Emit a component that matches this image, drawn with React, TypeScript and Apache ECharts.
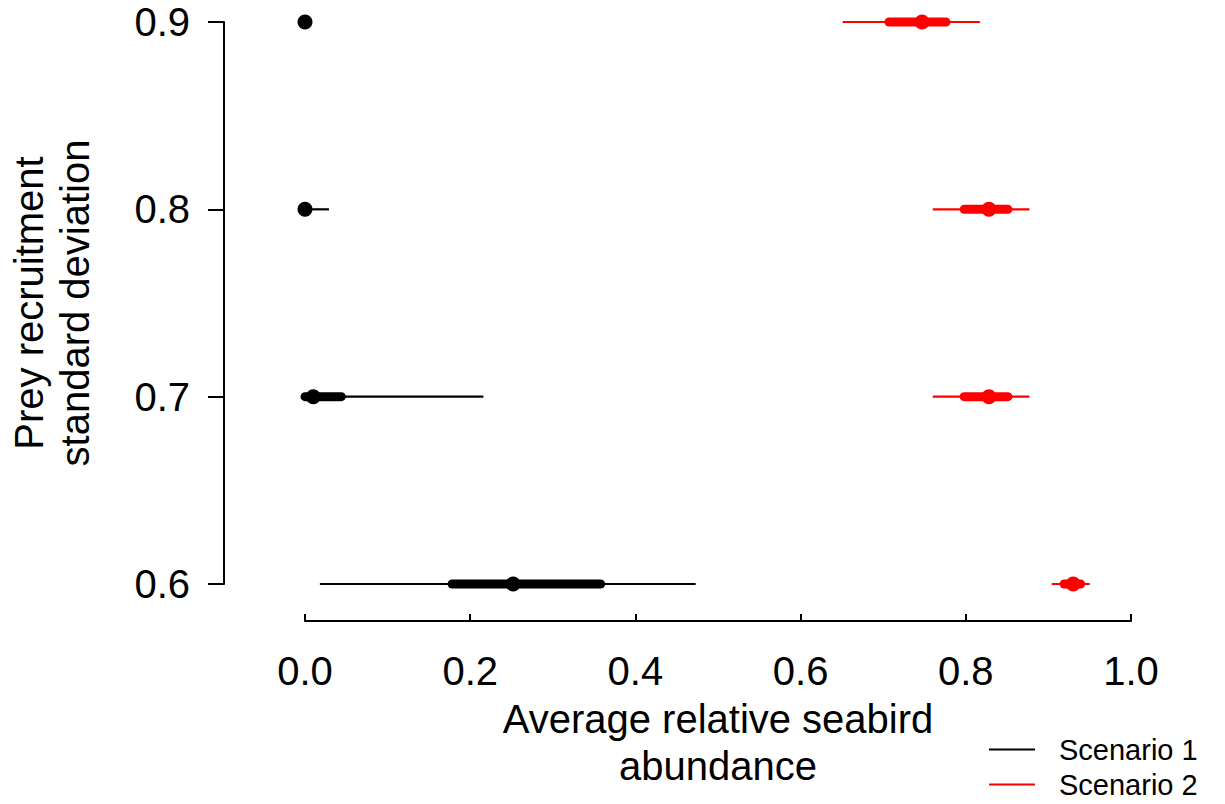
import React, { useEffect, useRef } from "react";
import * as echarts from "echarts";

const yLevels = [0.6, 0.7, 0.8, 0.9];
const xTicks = [0.0, 0.2, 0.4, 0.6, 0.8, 1.0];
const seriesNames = ["Scenario 1", "Scenario 2"];
const seriesColors = ["#000000", "#ff0000"];

// per y level: [lo, hi]
const s1Outer = [[0.018, 0.473], [0.0, 0.216], [0.0, 0.029], [0.0, 0.0]];
const s1Inner = [[0.178, 0.358], [0.0, 0.044], [0.0, 0.003], [0.0, 0.0]];
const s1Median = [0.252, 0.01, 0.0, 0.0];

const s2Outer = [[0.904, 0.950], [0.760, 0.877], [0.760, 0.877], [0.651, 0.817]];
const s2Inner = [[0.919, 0.939], [0.798, 0.851], [0.798, 0.851], [0.707, 0.776]];
const s2Median = [0.930, 0.828, 0.828, 0.747];

const FONT = "Liberation Sans, Arial, Helvetica, sans-serif";

function buildData(outer: number[][], inner: number[][], med: number[]) {
  return yLevels.map((y, i) => [y, outer[i][0], outer[i][1], inner[i][0], inner[i][1], med[i]]);
}

function makeSeries(name: string, color: string, data: number[][]) {
  return {
    name,
    type: "custom",
    itemStyle: { color },
    data,
    encode: { x: [1, 2, 3, 4, 5], y: 0 },
    renderItem: (params: any, api: any) => {
      const y = api.value(0);
      const a = api.coord([api.value(1), y]);
      const b = api.coord([api.value(2), y]);
      const c = api.coord([api.value(3), y]);
      const d = api.coord([api.value(4), y]);
      const m = api.coord([api.value(5), y]);
      const children: any[] = [];
      if (b[0] - a[0] > 0.5) {
        children.push({
          type: "line",
          shape: { x1: a[0], y1: a[1], x2: b[0], y2: b[1] },
          style: { stroke: color, lineWidth: 2.2 },
        });
      }
      if (d[0] - c[0] > 0.5) {
        children.push({
          type: "line",
          shape: { x1: c[0], y1: c[1], x2: d[0], y2: d[1] },
          style: { stroke: color, lineWidth: 9, lineCap: "round" },
        });
      }
      children.push({
        type: "circle",
        shape: { cx: m[0], cy: m[1], r: 7.5 },
        style: { fill: color },
      });
      return { type: "group", children };
    },
  };
}

export default function App() {
  const ref = useRef<HTMLDivElement>(null);
  useEffect(() => {
    if (!ref.current) return;
    document.body.style.margin = "0";
    const chart = echarts.init(ref.current, undefined, { renderer: "svg" });
    chart.setOption({
      animation: false,
      backgroundColor: "#ffffff",
      grid: {
        left: 305,
        right: 94,
        top: 22,
        bottom: 220,
        containLabel: false,
        outerBoundsMode: "none",
      },
      xAxis: {
        type: "value",
        min: 0,
        max: 1,
        interval: 0.2,
        offset: 37,
        splitLine: { show: false },
        axisLine: { show: true, onZero: false, lineStyle: { color: "#000", width: 2 } },
        axisTick: { show: true, inside: true, length: 7, lineStyle: { color: "#000", width: 2 } },
        axisLabel: {
          color: "#000",
          fontSize: 40,
          fontFamily: FONT,
          margin: 30,
          formatter: (v: number) => v.toFixed(1),
        },
        name: "Average relative seabird\nabundance",
        nameLocation: "middle",
        nameGap: 71,
        nameTextStyle: { color: "#000", fontSize: 40, fontFamily: FONT, lineHeight: 47 },
      },
      yAxis: {
        type: "value",
        min: 0.6,
        max: 0.9,
        interval: 0.1,
        offset: 81,
        splitLine: { show: false },
        axisLine: { show: true, onZero: false, lineStyle: { color: "#000", width: 2 } },
        axisTick: { show: true, length: 16, lineStyle: { color: "#000", width: 2 } },
        axisLabel: {
          color: "#000",
          fontSize: 40,
          fontFamily: FONT,
          margin: 34,
          formatter: (v: number) => v.toFixed(1),
        },
        name: "Prey recruitment\nstandard deviation",
        nameLocation: "middle",
        nameGap: 126,
        nameRotate: 90,
        nameTextStyle: { color: "#000", fontSize: 40, fontFamily: FONT, lineHeight: 46 },
      },
      legend: {
        show: true,
        orient: "vertical",
        left: 989,
        top: 735,
        padding: 0,
        icon: "rect",
        itemWidth: 46,
        itemHeight: 2,
        itemGap: 6,
        textStyle: { color: "#000", fontSize: 29, fontFamily: FONT, lineHeight: 29, padding: [0, 0, 0, 19] },
        data: seriesNames.map((n, i) => ({ name: n, itemStyle: { color: seriesColors[i] } })),
      },
      series: [
        makeSeries(seriesNames[0], seriesColors[0], buildData(s1Outer, s1Inner, s1Median)),
        makeSeries(seriesNames[1], seriesColors[1], buildData(s2Outer, s2Inner, s2Median)),
      ],
    });
    return () => chart.dispose();
  }, []);
  return <div ref={ref} style={{ width: 1225, height: 804, background: "#fff" }} />;
}
